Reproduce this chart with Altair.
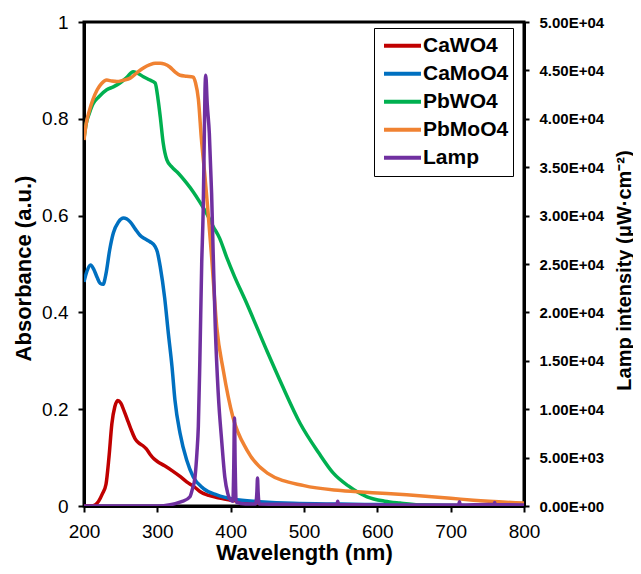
import altair as alt
import pandas as pd

FONT = "Liberation Sans"

series_names = ["CaWO4", "CaMoO4", "PbWO4", "PbMoO4", "Lamp"]
series_colors = ["#C00000", "#0070C0", "#00B050", "#F08232", "#7030A0"]

x_ticks = [200, 300, 400, 500, 600, 700, 800]
abs_ticks = [0, 0.2, 0.4, 0.6, 0.8, 1.0]
lamp_ticks = [0, 5000, 10000, 15000, 20000, 25000, 30000, 35000, 40000, 45000, 50000]

cawo4_wl = [200, 210, 215, 220, 225, 230, 234, 238, 242, 246, 250, 255, 260, 265, 270, 275, 280, 285,
            290, 295, 300, 310, 320, 331, 340, 350, 358, 370, 380, 390, 400, 410, 420, 440, 460, 500,
            550, 600, 700, 800]
cawo4_val = [0, 0, 0.002, 0.01, 0.025, 0.045, 0.1, 0.17, 0.205, 0.218, 0.213, 0.195, 0.175, 0.155,
             0.138, 0.13, 0.125, 0.118, 0.107, 0.098, 0.092, 0.083, 0.073, 0.061, 0.05, 0.04, 0.03,
             0.022, 0.018, 0.015, 0.012, 0.01, 0.008, 0.006, 0.005, 0.003, 0.002, 0.001, 0.0005, 0]

camoo4_wl = [200, 204, 209, 213, 218, 222, 226, 230, 235, 240, 247, 254, 263, 270, 276, 283, 290, 297,
             300, 304, 310, 315, 320, 324, 331, 340, 349, 363, 381, 404, 440, 485, 550, 600, 700, 800]
camoo4_val = [0.463, 0.485, 0.498, 0.49, 0.472, 0.46, 0.458, 0.48, 0.529, 0.564, 0.587, 0.595, 0.587,
              0.572, 0.56, 0.552, 0.546, 0.536, 0.525, 0.494, 0.43, 0.357, 0.288, 0.219, 0.15, 0.095,
              0.06, 0.036, 0.023, 0.014, 0.009, 0.0055, 0.004, 0.003, 0.001, 0]

pbwo4_wl = [200, 203, 207, 212, 220, 231, 240, 249, 258, 267, 272, 281, 290, 297, 301, 304, 308, 313,
            320, 327, 340, 349, 358, 367, 376, 385, 395, 405, 420, 449, 470, 495, 520, 540, 560, 586,
            610, 631, 660, 700, 800]
pbwo4_val = [0.76, 0.79, 0.81, 0.83, 0.845, 0.86, 0.866, 0.874, 0.885, 0.897, 0.895, 0.887, 0.88,
             0.874, 0.84, 0.804, 0.75, 0.715, 0.70, 0.69, 0.667, 0.649, 0.628, 0.605, 0.578, 0.553,
             0.512, 0.475, 0.425, 0.322, 0.25, 0.17, 0.11, 0.068, 0.042, 0.019, 0.01, 0.006, 0.002,
             0.001, 0]

pbmoo4_wl = [200, 203, 207, 212, 218, 224, 231, 238, 245, 254, 263, 272, 281, 290, 297, 304, 310, 317,
             324, 331, 340, 349, 352, 356, 360, 365, 369, 374, 381, 390, 403, 422, 450, 500, 550, 600,
             640, 700, 731, 800]
pbmoo4_val = [0.756, 0.79, 0.815, 0.839, 0.86, 0.873, 0.88, 0.878, 0.877, 0.88, 0.884, 0.895, 0.905,
              0.912, 0.915, 0.915, 0.913, 0.907, 0.897, 0.89, 0.888, 0.886, 0.875, 0.84, 0.76, 0.68,
              0.61, 0.515, 0.37, 0.28, 0.184, 0.116, 0.068, 0.042, 0.032, 0.027, 0.023, 0.016, 0.012,
              0.006]

lamp_wl = [200, 300, 335, 344.5, 348, 351.4, 354, 355.9, 358, 360.5, 362.5, 363.6, 365, 366, 368,
           370.9, 374, 376.4, 379, 383, 388, 392, 396, 400, 403, 404.2, 405.2, 406.2, 407.5, 420, 434,
           435.8, 436.6, 437.4, 439, 500, 545, 546, 547, 600, 700, 711, 712, 713, 750, 759, 760, 761,
           800]
lamp_val = [0, 0, 500, 960, 1800, 3000, 5500, 8200, 15100, 25000, 30500, 35700, 43000, 44500, 41600,
            38500, 32300, 25400, 18500, 11700, 6500, 3000, 1300, 600, 500, 4000, 9100, 4000, 400, 200,
            200, 1500, 2900, 1500, 200, 150, 150, 500, 150, 100, 100, 100, 450, 100, 150, 150, 350, 150,
            100]

abs_frames = []
for name, wl, val in [("CaWO4", cawo4_wl, cawo4_val), ("CaMoO4", camoo4_wl, camoo4_val),
                      ("PbWO4", pbwo4_wl, pbwo4_val), ("PbMoO4", pbmoo4_wl, pbmoo4_val)]:
    abs_frames.append(pd.DataFrame({"wl": wl, "val": val, "series": name}))
df_abs = pd.concat(abs_frames, ignore_index=True)
df_lamp = pd.DataFrame({"wl": lamp_wl, "val": lamp_val, "series": "Lamp"})

color = alt.Color(
    "series:N",
    scale=alt.Scale(domain=series_names, range=series_colors),
    sort=series_names,
    legend=alt.Legend(
        title=None, orient="none", legendX=290, legendY=6,
        strokeColor="black", fillColor="white", padding=4,
        labelFont=FONT, labelFontSize=21, labelFontWeight="bold", labelColor="black",
        symbolType="stroke", symbolSize=1369, symbolStrokeWidth=4,
        clipHeight=27.4, rowPadding=0, labelOffset=0, symbolOffset=4,
    ),
)

x_enc = alt.X(
    "wl:Q",
    scale=alt.Scale(domain=[200, 800], nice=False, zero=False),
    axis=alt.Axis(
        values=x_ticks, title="Wavelength (nm)", format="d", labelFlush=False,
        labelFontSize=19, labelPadding=10, tickSize=6,
        titleFontSize=22, titleFontWeight="bold", titlePadding=1,
    ),
)

abs_chart = alt.Chart(df_abs).mark_line(strokeWidth=3.5, interpolate="monotone", clip=True).encode(
    x=x_enc,
    y=alt.Y(
        "val:Q",
        scale=alt.Scale(domain=[0, 1], nice=False),
        axis=alt.Axis(
            values=abs_ticks, format="~g", title="Absorbance (a.u.)", orient="left",
            labelFontSize=19, labelPadding=10, tickSize=6, labelFlush=False,
            titleFontSize=22, titleFontWeight="bold",
            titleAngle=270, titleX=-61, titleY=246, titleAlign="center", titleBaseline="middle",
        ),
    ),
    color=color,
)

lamp_chart = alt.Chart(df_lamp).mark_line(strokeWidth=3.5, interpolate="monotone", clip=True).encode(
    x=x_enc,
    y=alt.Y(
        "val:Q",
        scale=alt.Scale(domain=[0, 50000], nice=False),
        axis=alt.Axis(
            values=lamp_ticks, orient="right", title="Lamp intensity (μW·cm⁻²)", labelFlush=False,
            labelExpr="datum.value == 0 ? '0.00E+00' : (datum.value < 10000 ? format(datum.value/1000, '.2f') + 'E+03' : format(datum.value/10000, '.2f') + 'E+04')",
            labelFontSize=15, labelFontWeight="bold", labelPadding=10, tickSize=5,
            titleFontSize=20, titleFontWeight="bold",
            titleAngle=270, titleX=100, titleY=248, titleAlign="center", titleBaseline="middle",
        ),
    ),
    color=color,
)

chart = alt.layer(abs_chart, lamp_chart).resolve_scale(y="independent").properties(
    width=440, height=484,
    autosize=alt.AutoSizeParams(type="none"),
    padding={"left": 76, "top": 14, "right": 109, "bottom": 60},
).configure(font=FONT).configure_view(
    stroke="black", strokeWidth=3
).configure_axis(
    domainColor="black", domainWidth=3, tickColor="black", tickWidth=2,
    labelColor="black", titleColor="black", labelFont=FONT, titleFont=FONT, grid=False,
)

chart.save("out.html", embed_options={"renderer": "svg", "actions": False})
